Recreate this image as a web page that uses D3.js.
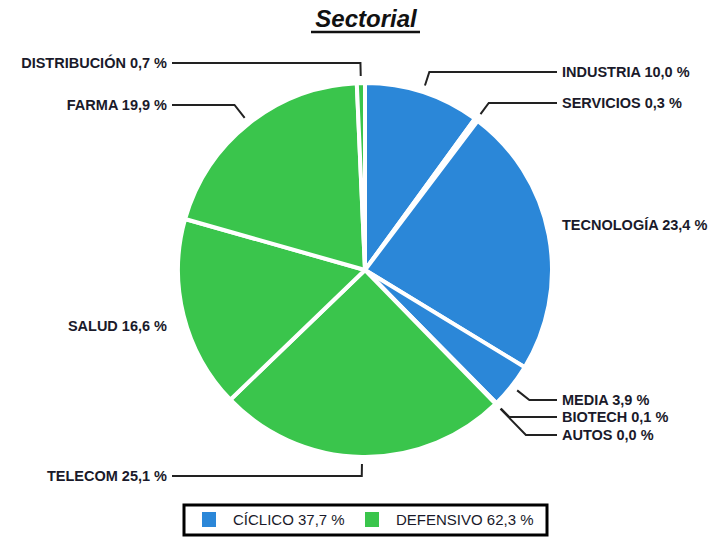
<!DOCTYPE html>
<html lang="es">
<head>
<meta charset="UTF-8">
<title>Sectorial</title>
<script src="https://d3js.org/d3.v7.min.js"></script>
<style>
  body { margin: 0; background: #fff; }
  text { font-family: "Liberation Sans", Arial, sans-serif; }
</style>
</head>
<body>
<script>
// data
var sectors = ["INDUSTRIA", "SERVICIOS", "TECNOLOGÍA", "MEDIA", "BIOTECH", "AUTOS",
               "TELECOM", "SALUD", "FARMA", "DISTRIBUCIÓN"];
var values  = [10.0, 0.3, 23.4, 3.9, 0.1, 0.0, 25.1, 16.6, 19.9, 0.7];
var groups  = ["CÍCLICO", "CÍCLICO", "CÍCLICO", "CÍCLICO", "CÍCLICO", "CÍCLICO",
               "DEFENSIVO", "DEFENSIVO", "DEFENSIVO", "DEFENSIVO"];
var groupNames  = ["CÍCLICO", "DEFENSIVO"];
var groupTotals = [37.7, 62.3];

// label layout (y of each label, whether it has a leader)
var labelY = [72, 103, 225, 400, 417, 435, 476, 326, 105, 63];
var leader = [true, true, false, true, true, true, true, false, true, true];

var w = 717, h = 537;
var cx = 365, cy = 270, r = 187;

var color = d3.scaleOrdinal().domain(groupNames).range(["#2b87d8", "#3ac54c"]);
var fmt = function(v) { return v.toFixed(1).replace(".", ",") + " %"; };

var svg = d3.select("body").append("svg").attr("width", w).attr("height", h);

// title
svg.append("text")
  .attr("x", 366).attr("y", 27)
  .attr("text-anchor", "middle")
  .attr("font-size", "24px").attr("font-weight", "bold").attr("font-style", "italic")
  .attr("fill", "#111")
  .text("Sectorial");
svg.append("line")
  .attr("x1", 311).attr("x2", 420).attr("y1", 32).attr("y2", 32)
  .attr("stroke", "#111").attr("stroke-width", 2.5);

var pie = d3.pie().sort(null).value(function(d) { return d; });
var arcs = pie(values);
var arc = d3.arc().innerRadius(0).outerRadius(r);

var g = svg.append("g").attr("transform", "translate(" + cx + "," + cy + ")");

g.selectAll("path")
  .data(arcs)
  .enter()
  .append("path")
  .attr("d", arc)
  .attr("fill", function(d, i) { return color(groups[i]); })
  .attr("stroke", "#fff")
  .attr("stroke-width", 4)
  .attr("stroke-linejoin", "round");

// labels + leaders
arcs.forEach(function(d, i) {
  var mid = (d.startAngle + d.endAngle) / 2;
  var right = Math.sin(mid) > 0;
  var tx = right ? 562 : 167;
  var ly = labelY[i];

  if (leader[i]) {
    var s = Math.sin(mid), c = Math.cos(mid);
    var x0 = cx + (r + 7) * s, y0 = cy - (r + 7) * c;
    var re = (cy - ly) / c;
    var xe = cx + re * s;
    var lx = right ? tx - 5 : tx + 5;
    svg.append("path")
      .attr("d", "M" + x0 + "," + y0 + "L" + xe + "," + ly + "L" + lx + "," + ly)
      .attr("fill", "none")
      .attr("stroke", "#222")
      .attr("stroke-width", 2);
  }

  svg.append("text")
    .attr("x", tx).attr("y", ly)
    .attr("dy", "0.36em")
    .attr("text-anchor", right ? "start" : "end")
    .attr("font-size", "14.5px").attr("font-weight", "bold")
    .attr("fill", "#1a1a2a")
    .text(sectors[i] + " " + fmt(values[i]));
});

// legend
var leg = svg.append("g");
leg.append("rect")
  .attr("x", 184).attr("y", 505).attr("width", 363).attr("height", 30)
  .attr("fill", "#fff").attr("stroke", "#000").attr("stroke-width", 3);

var legX = [202, 365];
groupNames.forEach(function(n, i) {
  leg.append("rect")
    .attr("x", legX[i]).attr("y", 512).attr("width", 14).attr("height", 15)
    .attr("fill", color(n));
  leg.append("text")
    .attr("x", legX[i] + 31).attr("y", 520)
    .attr("dy", "0.36em")
    .attr("font-size", "15px")
    .attr("fill", "#1a1a2a")
    .text(n + " " + fmt(groupTotals[i]));
});
</script>
</body>
</html>
